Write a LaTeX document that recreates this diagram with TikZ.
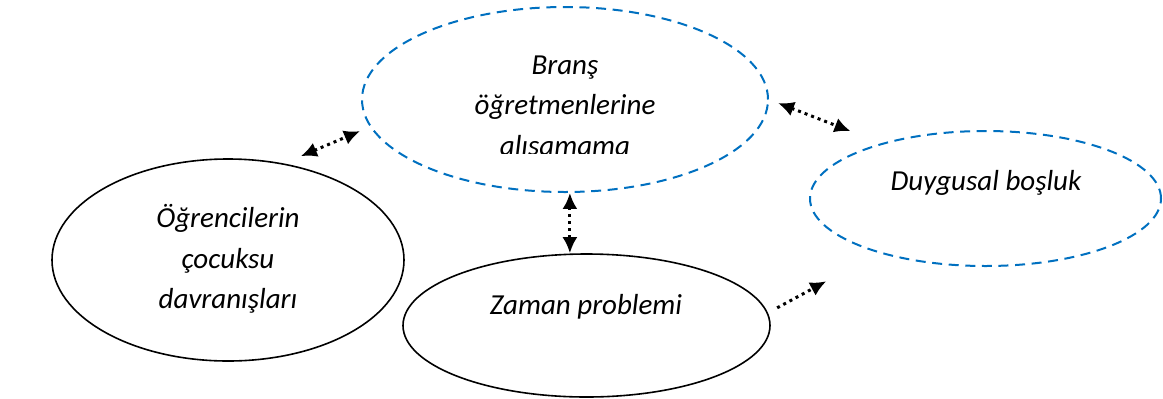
\documentclass[tikz,border=0pt]{standalone}
\usepackage{fontspec}
\setmainfont{Carlito}
\usetikzlibrary{positioning, arrows.meta, shapes.geometric}
\definecolor{wordblue}{RGB}{0,112,192}

\begin{document}
\begin{tikzpicture}[x=0.5pt, y=-0.5pt,
    >={Latex[length=8pt, width=7.5pt]},
    bubble/.style={ellipse, draw, line width=0.8pt, inner sep=0pt},
    dashbubble/.style={bubble, draw=wordblue, line width=1pt, dash pattern=on 5pt off 3.3pt},
    txt/.style={font=\fontsize{14.5}{20.3}\selectfont\itshape, inner sep=0pt, align=center},
    link/.style={line width=1.5pt, dotted}]
    \useasboundingbox (0,0) rectangle (1163,398);

    \node[dashbubble, minimum width=203pt, minimum height=92.5pt] (brans) at (565,99.5) {};
    \node[bubble, minimum width=176pt, minimum height=101pt] (ogrenci) at (228,260) {};
    \node[bubble, minimum width=183.5pt, minimum height=71.5pt] (zaman) at (586.5,325.5) {};
    \node[dashbubble, minimum width=175.5pt, minimum height=67.5pt] (duygu) at (985.5,198.5) {};

    \begin{scope}
        \clip (420,20) rectangle (710,153);
        \node[txt] (brans-txt) at (565,108) {Branş\\öğretmenlerine\\alışamama};
    \end{scope}
    \node[txt] (ogrenci-txt) at (228,259) {Öğrencilerin\\çocuksu\\davranışları};
    \node[txt, anchor=base] (zaman-txt) at (586,314) {Zaman problemi};
    \node[txt, anchor=base] (duygu-txt) at (986,190) {Duygusal boşluk};

    \draw[link, <->, shorten <=9.3pt, shorten >=5.4pt] (ogrenci.60.8) -- (brans.188.4);
    \draw[link, <->] (brans.273.7) -- (brans.273.7 |- zaman.north);
    \draw[link, <->, shorten <=4.85pt, shorten >=16.6pt] (brans.east) -- (duygu.152.6);
    \draw[link, ->, shorten <=5.25pt, shorten >=29.75pt] (zaman.4.3) -- (duygu.207.3);
\end{tikzpicture}
\end{document}
